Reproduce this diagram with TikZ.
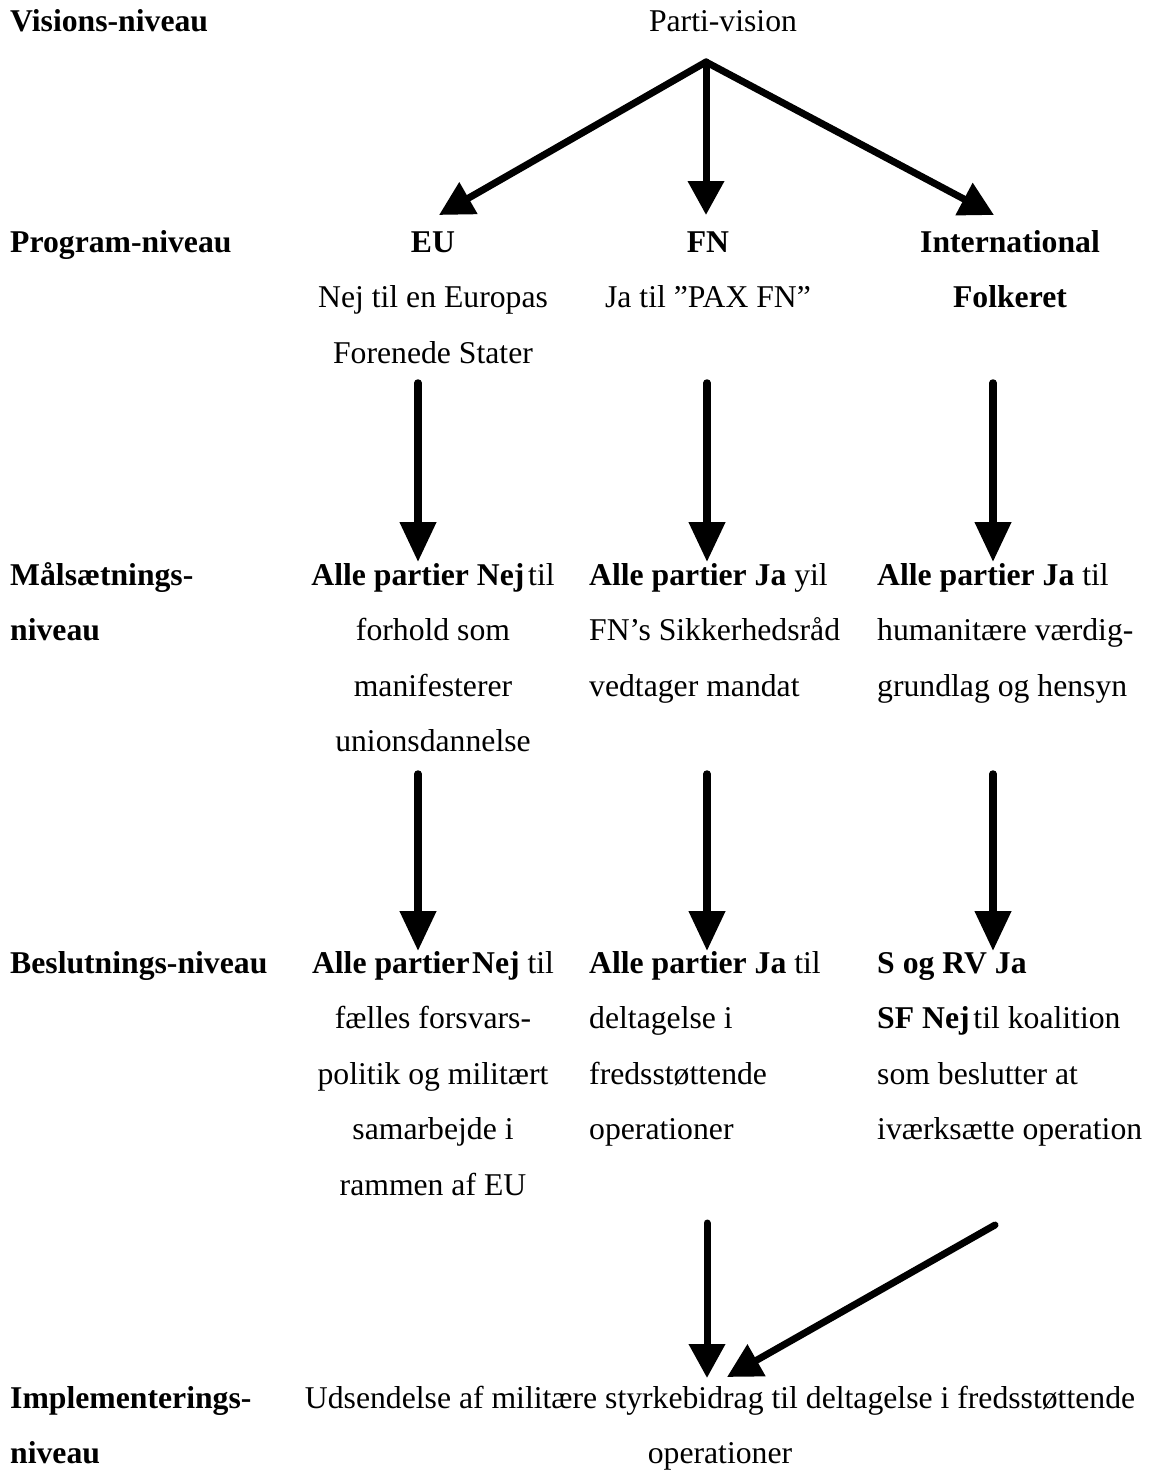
\documentclass[tikz,border=0pt]{standalone}
\usepackage{fontspec}
\setmainfont{Liberation Serif}
\usetikzlibrary{arrows.meta}
\begin{document}
\begin{tikzpicture}[x=1pt,y=-1pt,
  txt/.style={inner sep=0pt, font=\fontsize{31.7}{55.5}\selectfont},
  lbl/.style={inner sep=0pt, font=\fontsize{31.7}{55.5}\selectfont\bfseries, anchor=base west, align=left},
  ctr/.style={txt, anchor=base, align=center},
  lft/.style={txt, anchor=base west, align=left},
  arr/.style={line width=7pt, line cap=round, -{Triangle[width=35pt,length=34pt]}},
  arrb/.style={line width=7.5pt, line cap=round, -{Triangle[width=35pt,length=40pt]}},
]
\useasboundingbox (0,0) rectangle (1149,1472);

% level labels (anchored at the baseline of the last line)
\node[lbl] (Lvis) at (10,32) {Visions-niveau};
\node[lbl] (Lprog) at (10,252) {Program-niveau};
\node[lbl] (Lmaal) at (10,640.5) {Målsætnings-\\niveau};
\node[lbl] (Lbes) at (10,973) {Beslutnings-niveau};
\node[lbl] (Limp) at (10,1463.5) {Implementerings-\\niveau};

% contents
\node[ctr] (vision) at (723,32) {Parti-vision};
\node[ctr] (eu) at (433,363) {\textbf{EU}\\Nej til en Europas\\Forenede Stater};
\node[ctr] (fn) at (708,307.5) {\textbf{FN}\\Ja til ”PAX FN”};
\node[ctr] (int) at (1010,307.5) {\textbf{International}\\\textbf{Folkeret}};
\node[ctr] (m1) at (433,751.5) {\textbf{Alle partier Nej}\hspace{0.12em}til\\forhold som\\manifesterer\\unionsdannelse};
\node[lft] (m2) at (589,696) {\textbf{Alle partier Ja} yil\\FN’s Sikkerhedsråd\\vedtager mandat};
\node[lft] (m3) at (877,696) {\textbf{Alle partier Ja} til\\humanitære værdig-\\grundlag og hensyn};
\node[ctr] (b1) at (433,1195) {\textbf{Alle partier\hspace{0.08em}Nej} til\\fælles forsvars-\\politik og militært\\samarbejde i\\rammen af EU};
\node[lft] (b2) at (589,1139.5) {\textbf{Alle partier Ja} til\\deltagelse i\\fredsstøttende\\operationer};
\node[lft] (b3) at (877,1139.5) {\textbf{S og RV Ja}\\\textbf{SF Nej}\hspace{0.12em}til koalition\\som beslutter at\\iværksætte operation};
\node[ctr] (imp) at (720,1463.5) {Udsendelse af militære styrkebidrag til deltagelse i fredsstøttende\\operationer};

% arrow end points
\coordinate (apex) at (706,62);
\coordinate (t1) at (439,215);
\coordinate (t2) at (706,215);
\coordinate (t3) at (994,215);
\coordinate (p1s) at (418,383);
\coordinate (p1e) at (418,562);
\coordinate (p2s) at (707,383);
\coordinate (p2e) at (707,562);
\coordinate (p3s) at (993,383);
\coordinate (p3e) at (993,562);
\coordinate (q1s) at (418,774);
\coordinate (q1e) at (418,951);
\coordinate (q2s) at (707,774);
\coordinate (q2e) at (707,951);
\coordinate (q3s) at (993,774);
\coordinate (q3e) at (993,951);
\coordinate (r2s) at (707,1223);
\coordinate (r2e) at (707,1378);
\coordinate (r3s) at (995,1225);
\coordinate (r3e) at (727,1377);

\draw[arr] (apex) -- (t1);
\draw[arr] (apex) -- (t2);
\draw[arr] (apex) -- (t3);
\draw[arrb] (p1s) -- (p1e);
\draw[arrb] (p2s) -- (p2e);
\draw[arrb] (p3s) -- (p3e);
\draw[arrb] (q1s) -- (q1e);
\draw[arrb] (q2s) -- (q2e);
\draw[arrb] (q3s) -- (q3e);
\draw[arr] (r2s) -- (r2e);
\draw[arr] (r3s) -- (r3e);
\end{tikzpicture}
\end{document}
